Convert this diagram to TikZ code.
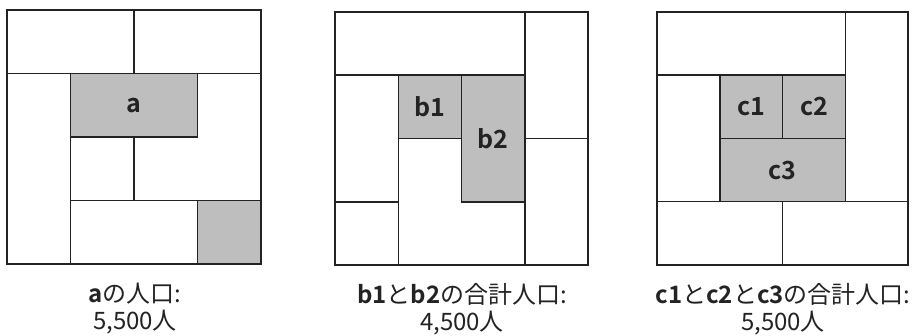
\documentclass[tikz,border=0pt]{standalone}
\usepackage{fontspec}
\setmainfont{Noto Sans CJK JP}[BoldFont={Noto Sans CJK JP Bold}]
\definecolor{ink}{RGB}{35, 35, 35}
\definecolor{shade}{RGB}{190, 190, 190}

\tikzset{
    cellline/.style={draw=ink, line width=1.6pt},
    hit/.style={cellline, fill=shade},
    cellname/.style={font=\fontsize{25}{27}\selectfont\bfseries, text=ink},
    caption/.style={font=\fontsize{24}{27}\selectfont, text=ink, align=center}
}

\begin{document}
\begin{tikzpicture}[x=1pt, y=-1pt]
    \useasboundingbox (0,0) rectangle (914,336);

    % 図1: a
    \begin{scope}[shift={(7,10)}, x=63.5pt, y=-63.5pt]
        \draw[cellline] (0,0) rectangle (2,1);
        \draw[cellline] (2,0) rectangle (4,1);
        \draw[cellline] (0,1) rectangle (1,4);
        \draw[hit] (1,1) rectangle (3,2);
        \draw[cellline] (3,1) -- (4,1) -- (4,3) -- (2,3) -- (2,2) -- (3,2) -- cycle;
        \draw[cellline] (1,2) rectangle (2,3);
        \draw[cellline] (1,3) rectangle (3,4);
        \draw[hit] (3,3) rectangle (4,4);
        \node[cellname] (a) at (2,1.5) {a};
    \end{scope}

    % 図2: b1, b2
    \begin{scope}[shift={(335,12)}, x=63.3pt, y=-63.3pt]
        \draw[cellline] (0,0) rectangle (3,1);
        \draw[cellline] (3,0) rectangle (4,2);
        \draw[cellline] (3,2) rectangle (4,4);
        \draw[cellline] (0,1) rectangle (1,3);
        \draw[cellline] (0,3) rectangle (1,4);
        \draw[hit] (1,1) rectangle (2,2);
        \draw[hit] (2,1) rectangle (3,3);
        \draw[cellline] (1,2) -- (2,2) -- (2,3) -- (3,3) -- (3,4) -- (1,4) -- cycle;
        \node[cellname] (b1) at (1.5,1.5) {b1};
        \node[cellname] (b2) at (2.5,2) {b2};
    \end{scope}

    % 図3: c1, c2, c3
    \begin{scope}[shift={(657,12)}, x=62.8pt, y=-63.2pt]
        \draw[cellline] (0,0) rectangle (3,1);
        \draw[cellline] (3,0) rectangle (4,3);
        \draw[cellline] (0,1) rectangle (1,3);
        \draw[hit] (1,1) rectangle (2,2);
        \draw[hit] (2,1) rectangle (3,2);
        \draw[hit] (1,2) rectangle (3,3);
        \draw[cellline] (0,3) rectangle (2,4);
        \draw[cellline] (2,3) rectangle (4,4);
        \node[cellname] (c1) at (1.5,1.5) {c1};
        \node[cellname] (c2) at (2.5,1.5) {c2};
        \node[cellname] (c3) at (2,2.5) {c3};
    \end{scope}

    % 人口のラベル
    \node[caption] (capA) at (135,309) {\textbf{a}の人口:\\5,500人};
    \node[caption] (capB) at (462,309) {\textbf{b1}と\textbf{b2}の合計人口:\\4,500人};
    \node[caption] (capC) at (783,309) {\textbf{c1}と\textbf{c2}と\textbf{c3}の合計人口:\\5,500人};
\end{tikzpicture}
\end{document}
